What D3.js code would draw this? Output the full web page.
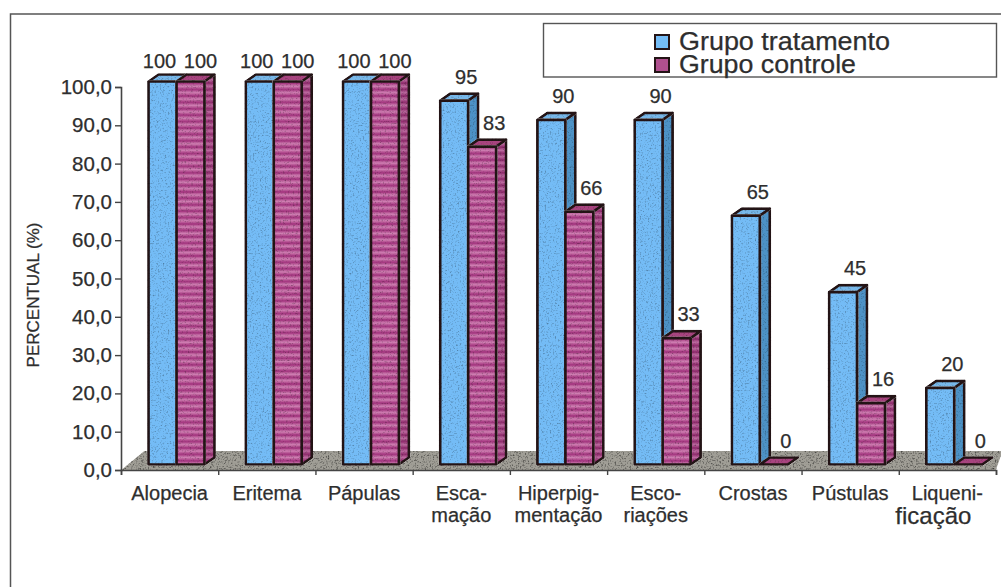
<!DOCTYPE html>
<html lang="pt">
<head>
<meta charset="utf-8">
<title>Sinais clínicos por grupo</title>
<script src="https://cdnjs.cloudflare.com/ajax/libs/d3/7.8.5/d3.min.js"></script>
<style>
  html, body { margin: 0; padding: 0; background: #fff; }
  svg { display: block; }
  text { font-family: "Liberation Sans", Arial, sans-serif; fill: #2e2e2e; stroke: #2e2e2e; stroke-width: 0.25px; }
</style>
</head>
<body>
<svg id="chart" width="1001" height="587"></svg>
<script>
// Percentual de animais com cada sinal clínico
const categories = ["Alopecia", "Eritema", "Pápulas", "Escamação", "Hiperpigmentação",
                    "Escoriações", "Crostas", "Pústulas", "Liquenificação"];
const categoryLines = [["Alopecia"], ["Eritema"], ["Pápulas"], ["Esca-", "mação"],
                       ["Hiperpig-", "mentação"], ["Esco-", "riações"], ["Crostas"],
                       ["Pústulas"], ["Liqueni-", "ficação"]];
const grupoTratamento = [100, 100, 100, 95, 90, 90, 65, 45, 20];
const grupoControle = [100, 100, 100, 83, 66, 33, 0, 16, 0];
const seriesNames = ["Grupo tratamento", "Grupo controle"];
const yTicks = [0, 10, 20, 30, 40, 50, 60, 70, 80, 90, 100];

const svg = d3.select("#chart");
const defs = svg.append("defs");

// Plot geometry: the bars stand on a floor set behind the axis plane
const axisX = 121, axisRight = 996, axisBase = 470, axisTop = 87;
const floorLift = 5.5, depthX = 10, depthY = 7, barW = 28, barInset = 27.5;

const x = d3.scaleBand().domain(categories).range([axisX, axisRight]);
const xEdges = d3.scaleLinear().domain([0, categories.length]).range([axisX, axisRight]);
const y = d3.scaleLinear().domain([0, 100]).range([axisBase, axisTop]);

// Printed grain for the floor and the bar faces
function grainFilter(id, gain, offset) {
  const f = defs.append("filter").attr("id", id)
    .attr("filterUnits", "userSpaceOnUse").attr("x", 0).attr("y", 0).attr("width", 1001).attr("height", 587)
    .attr("color-interpolation-filters", "sRGB");
  f.append("feTurbulence").attr("type", "fractalNoise").attr("baseFrequency", 0.6)
    .attr("numOctaves", 2).attr("seed", 4).attr("result", "n");
  f.append("feColorMatrix").attr("in", "n").attr("type", "matrix")
    .attr("values", `${gain} 0 0 0 ${offset}  ${gain} 0 0 0 ${offset}  ${gain} 0 0 0 ${offset}  0 0 0 0 1`).attr("result", "g");
  f.append("feBlend").attr("in", "SourceGraphic").attr("in2", "g").attr("mode", "multiply").attr("result", "b");
  f.append("feComposite").attr("in", "b").attr("in2", "SourceAlpha").attr("operator", "in");
}
grainFilter("grain", 0.9, 0.58);
grainFilter("grainFloor", 1.6, 0.2);

// Horizontal banding of the control series
function stripes(id, base, band) {
  const p = defs.append("pattern").attr("id", id).attr("patternUnits", "userSpaceOnUse")
    .attr("width", 8).attr("height", 6.4);
  p.append("rect").attr("width", 8).attr("height", 6.4).attr("fill", base);
  p.append("rect").attr("y", 1).attr("width", 8).attr("height", 1.1).attr("fill", band).attr("opacity", 0.5);
  p.append("rect").attr("y", 2.1).attr("width", 8).attr("height", 2).attr("fill", band);
  p.append("rect").attr("y", 4.1).attr("width", 8).attr("height", 1.1).attr("fill", band).attr("opacity", 0.5);
}
stripes("stripeFront", "#a63a82", "#cf7fb2");
stripes("stripeSide", "#923070", "#bd6aa0");

const seriesStyle = [
  { front: "#74bcf6", side: "#4d92c6", top: "#78b8ea", values: grupoTratamento },
  { front: "url(#stripeFront)", side: "url(#stripeSide)", top: "#a8447f", values: grupoControle }
];
const outline = "#241416";

// Outer frame, open on the right and at the bottom
svg.append("path")
  .attr("d", d3.line()([[10.5, 587], [10.5, 14], [1001, 14]]))
  .attr("fill", "none").attr("stroke", "#555").attr("stroke-width", 1.5);

// Floor of the chart
svg.append("path")
  .attr("d", d3.line()([[axisX, axisBase], [144, 451], [1001, 451], [1001, 456], [996, axisBase]]) + "Z")
  .attr("fill", "#a09e96").attr("filter", "url(#grainFloor)");

// Axes
const yAxis = d3.axisLeft(y).tickValues(yTicks).tickSize(6).tickPadding(3)
  .tickFormat(d => d3.format(".1f")(d).replace(".", ","));
const gy = svg.append("g").attr("transform", `translate(${axisX},0)`).call(yAxis);
gy.selectAll("text").style("font-size", "20.5px");

const xAxis = d3.axisBottom(xEdges).ticks(categories.length).tickSize(5).tickFormat("");
const gx = svg.append("g").attr("transform", `translate(0,${axisBase})`).call(xAxis);
[gy, gx].forEach(g => {
  g.selectAll("path.domain").attr("stroke", "#444").attr("stroke-width", 1.6);
  g.selectAll("line").attr("stroke", "#444").attr("stroke-width", 1.4);
});

// Three-dimensional columns: front face, side face, top face
const barLayer = svg.append("g");
const line = d3.line();
categories.forEach((cat, i) => {
  seriesStyle.forEach((s, k) => {
    const x0 = x(cat) + barInset + k * barW, x1 = x0 + barW;
    const yB = y(0) - floorLift, yT = y(s.values[i]) - floorLift;
    const g = barLayer.append("g").attr("stroke", outline).attr("stroke-width", 2.7).attr("stroke-linejoin", "round");
    g.append("path").attr("d", line([[x1, yB], [x1 + depthX, yB - depthY], [x1 + depthX, yT - depthY], [x1, yT]]) + "Z")
      .attr("fill", s.side).attr("filter", "url(#grain)");
    g.append("path").attr("d", line([[x0, yT], [x0 + depthX, yT - depthY], [x1 + depthX, yT - depthY], [x1, yT]]) + "Z")
      .attr("fill", s.top).attr("filter", "url(#grain)");
    g.append("rect").attr("x", x0).attr("y", yT).attr("width", barW).attr("height", yB - yT)
      .attr("fill", s.front).attr("filter", "url(#grain)");
  });
});

// Value labels above each column
categories.forEach((cat, i) => {
  seriesStyle.forEach((s, k) => {
    const tied = grupoTratamento[i] === grupoControle[i];
    const cx = x(cat) + barInset + k * barW + barW / 2 + (tied ? (k ? 10 : -3) : 12);
    svg.append("text").attr("class", "value")
      .attr("x", cx).attr("y", Math.max(68, y(s.values[i]) - floorLift - 17))
      .attr("text-anchor", "middle").style("font-size", "20px").text(s.values[i]);
  });
});

// Category labels, hyphenated over two lines where needed
categoryLines.forEach((lines, i) => {
  const cx = x(categories[i]) + x.bandwidth() / 2;
  lines.forEach((t, j) => {
    const lastBig = t === "ficação";
    svg.append("text").attr("x", lastBig ? cx - 14 : cx).attr("y", 500 + j * (lastBig ? 24 : 22))
      .attr("text-anchor", "middle")
      .style("font-size", lastBig ? "24px" : "20px")
      .text(t);
  });
});

// Axis title
svg.append("text").attr("transform", "translate(39,295) rotate(-90)")
  .attr("text-anchor", "middle").style("font-size", "17px").text("PERCENTUAL (%)");

// Legend
const legend = svg.append("g");
legend.append("rect").attr("x", 543.5).attr("y", 23.5).attr("width", 453).attr("height", 53.5)
  .attr("fill", "#fff").attr("stroke", "#555").attr("stroke-width", 1.4);
const legendSwatch = ["#74bcf6", "#b0508f"];
const legendWidth = [211, 177];
seriesNames.forEach((name, k) => {
  const row = legend.append("g").attr("transform", `translate(0,${k * 23})`);
  row.append("rect").attr("x", 655).attr("y", 35).attr("width", 14).attr("height", 14)
    .attr("fill", legendSwatch[k]).attr("stroke", outline).attr("stroke-width", 2);
  row.append("text").attr("x", 679).attr("y", 50).style("font-size", "25px")
    .attr("textLength", legendWidth[k]).attr("lengthAdjust", "spacingAndGlyphs").text(name);
});
</script>
</body>
</html>
